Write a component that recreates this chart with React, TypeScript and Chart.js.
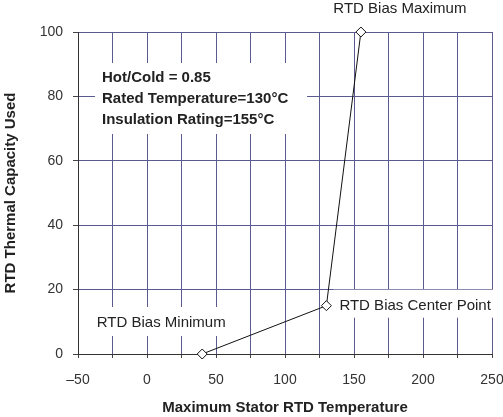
import React, { useEffect, useRef } from "react";
import { Chart, registerables } from "chart.js";

Chart.register(...registerables);

const xValues = [40, 130, 155];
const yValues = [0, 15, 100];
const pointLabels = ["RTD Bias Minimum", "RTD Bias Center Point", "RTD Bias Maximum"];
const infoLines = ["Hot/Cold = 0.85", "Rated Temperature=130°C", "Insulation Rating=155°C"];
const xTitle = "Maximum Stator RTD Temperature";
const yTitle = "RTD Thermal Capacity Used";
const xRange = [-50, 250];
const yRange = [0, 100];

const FONT = "'Liberation Sans', Arial, sans-serif";

const labelPlugin = {
  id: "labels",
  beforeDatasetsDraw(chart: any) {
    const ctx = chart.ctx;
    const xs = chart.scales.x;
    const ys = chart.scales.y;
    const area = chart.chartArea;
    ctx.save();
    // info box
    const bx = area.left + 17;
    const by = area.top + 31;
    ctx.fillStyle = "#ffffff";
    ctx.fillRect(bx, by, 212, 71);
    ctx.fillStyle = "#222222";
    ctx.font = `bold 15px ${FONT}`;
    ctx.textBaseline = "middle";
    ctx.textAlign = "left";
    infoLines.forEach((t, i) => {
      ctx.fillText(t, bx + 7, by + 15 + i * 21);
    });
    // point labels
    ctx.font = `15px ${FONT}`;
    const px = xValues.map((v) => xs.getPixelForValue(v));
    const py = yValues.map((v) => ys.getPixelForValue(v));
    // minimum
    {
      const t = pointLabels[0];
      const w = ctx.measureText(t).width;
      const cx = px[0] - 41;
      const cy = py[0] - 31;
      ctx.fillStyle = "#ffffff";
      ctx.fillRect(cx - w / 2 - 6, cy - 16, w + 12, 29);
      ctx.fillStyle = "#222222";
      ctx.textAlign = "center";
      ctx.fillText(t, cx, cy);
    }
    // center point
    {
      const t = pointLabels[1];
      const w = ctx.measureText(t).width;
      const lx = px[1] + 13;
      const cy = py[1];
      ctx.fillStyle = "#ffffff";
      ctx.fillRect(lx - 6, cy - 16, w + 12, 28);
      ctx.fillStyle = "#222222";
      ctx.textAlign = "left";
      ctx.fillText(t, lx, cy);
    }
    // maximum
    {
      const t = pointLabels[2];
      ctx.fillStyle = "#222222";
      ctx.textAlign = "center";
      ctx.fillText(t, px[2] + 39, py[2] - 23);
    }
    ctx.restore();
  },
};

export default function App() {
  const ref = useRef<HTMLCanvasElement>(null);
  useEffect(() => {
    if (!ref.current) return;
    const chart = new Chart(ref.current, {
      type: "line",
      data: {
        datasets: [
          {
            data: xValues.map((x, i) => ({ x, y: yValues[i] })),
            borderColor: "#111111",
            borderWidth: 1,
            pointStyle: "rectRot",
            pointRadius: 5,
            pointBackgroundColor: "#ffffff",
            pointBorderColor: "#111111",
            pointBorderWidth: 1,
            tension: 0,
            clip: false as any,
          },
        ],
      },
      options: {
        animation: false,
        responsive: false,
        devicePixelRatio: 1,
        layout: { padding: { left: 0, right: 11, top: 32, bottom: 0 } },
        plugins: {
          legend: { display: false },
          tooltip: { enabled: false },
        },
        scales: {
          x: {
            type: "linear",
            min: xRange[0],
            max: xRange[1],
            afterFit: (s: any) => {
              s.height = 63;
              s.paddingRight = 0;
              s.paddingLeft = 0;
            },
            ticks: {
              stepSize: 25,
              autoSkip: false,
              maxRotation: 0,
              padding: 14,
              color: "#333333",
              font: { family: FONT, size: 14 },
              callback: (v: any) =>
                Number(v) % 50 === 0 ? (Number(v) < 0 ? "\u2013" + Math.abs(Number(v)) : String(v)) : "",
            },
            grid: { color: "#5a5a90", lineWidth: 1, tickLength: 4, tickColor: "#444444" },
            border: { color: "#333333", width: 1 },
            title: {
              display: true,
              text: xTitle,
              color: "#222222",
              font: { family: FONT, size: 15, weight: "bold" },
              padding: { top: 0, bottom: 0 },
            },
          },
          y: {
            type: "linear",
            min: yRange[0],
            max: yRange[1],
            afterFit: (s: any) => {
              s.width = 78;
              s.paddingTop = 0;
              s.paddingBottom = 0;
            },
            ticks: {
              stepSize: 20,
              padding: 10,
              color: "#333333",
              font: { family: FONT, size: 14 },
            },
            grid: { color: "#5a5a90", lineWidth: 1, tickLength: 5, tickColor: "#444444" },
            border: { color: "#333333", width: 1 },
            title: {
              display: true,
              text: yTitle,
              color: "#222222",
              font: { family: FONT, size: 15, weight: "bold" },
              padding: { top: 2, bottom: 0 },
            },
          },
        },
      },
      plugins: [labelPlugin],
    });
    return () => chart.destroy();
  }, []);
  return (
    <div style={{ position: "fixed", left: 0, top: 0, width: 503, height: 417, background: "#fff" }}>
      <canvas ref={ref} width={503} height={417} />
    </div>
  );
}
